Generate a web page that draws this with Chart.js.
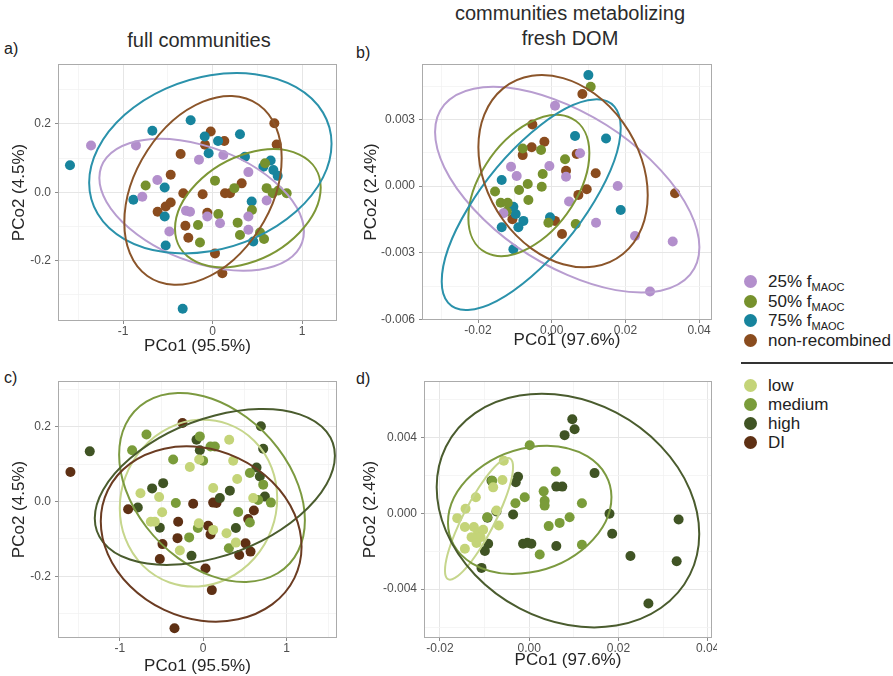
<!DOCTYPE html>
<html>
<head>
<meta charset="utf-8">
<script src="https://cdn.jsdelivr.net/npm/chart.js@4.4.1/dist/chart.umd.min.js"></script>
<style>
  body { margin: 0; width: 893px; height: 676px; overflow: hidden; background: #fff; position: relative;
         font-family: "Liberation Sans", Arial, sans-serif; color: #222; }
  canvas { position: absolute; }
  .txt { position: absolute; white-space: nowrap; line-height: 1; }
  .title { font-size: 20px; text-align: center; width: 320px; color: #2b2b2b; }
  .tag { font-size: 16px; }
  .key { position: absolute; left: 744px; width: 13px; height: 13px; border-radius: 50%; }
  .keytxt { position: absolute; left: 768px; font-size: 17px; line-height: 1; white-space: nowrap; color: #222; }
  .keytxt sub { font-size: 11px; vertical-align: -4px; }
  .rule { position: absolute; left: 741px; top: 362px; width: 152px; height: 2px; background: #333; }
</style>
</head>
<body>

<div class="txt tag" style="left:4px;top:41px">a)</div>
<div class="txt tag" style="left:356px;top:45px">b)</div>
<div class="txt tag" style="left:4px;top:370px">c)</div>
<div class="txt tag" style="left:356px;top:371px">d)</div>
<div class="txt title" style="left:39px;top:30px">full communities</div>
<div class="txt title" style="left:410px;top:3px">communities metabolizing</div>
<div class="txt title" style="left:410px;top:28px">fresh DOM</div>

<canvas id="panelA" width="344" height="301" style="left:9px;top:56px"></canvas>
<canvas id="panelB" width="367" height="295" style="left:361px;top:56px"></canvas>
<canvas id="panelC" width="344" height="304" style="left:9px;top:373px"></canvas>
<canvas id="panelD" width="357" height="298" style="left:360px;top:373px"></canvas>

<div id="legend"></div>

<script>
// ---- full communities (PCo1 95.5%, PCo2 4.5%), grouped by MAOC fraction ----
const full25 = [[-1.359,0.137],[-0.857,0.137],[-0.786,-0.013],[-0.618,0.036],[-0.484,-0.115],[-0.153,0.095],
  [-0.298,-0.054],[-0.253,-0.057],[-0.060,-0.071],[0.082,-0.091],[0.119,0.109],[0.399,0.059],[0.399,-0.071],
  [0.399,-0.110],[0.603,-0.024]];
const full50 = [[-0.749,0.020],[-0.164,-0.096],[-0.142,-0.147],[0.026,0.034],[0.063,-0.064],[0.242,0.012],
  [0.279,-0.089],[0.305,-0.125],[0.439,-0.052],[0.529,-0.118],[0.574,-0.137],[0.603,0.012],[0.670,-0.003],
  [0.734,0.005],[0.827,-0.003],[0.585,0.085]];
const full75 = [[-1.594,0.079],[-0.674,0.180],[-0.246,0.211],[-0.886,-0.022],[-0.536,0.014],[-0.536,-0.071],
  [-0.525,-0.156],[-0.335,-0.341],[-0.089,0.163],[-0.045,0.114],[0.060,0.150],[0.305,0.170],[0.361,0.104],
  [0.436,-0.027],[0.566,0.075],[0.648,0.093],[0.678,0.065],[0.726,0.048],[0.454,-0.144]];
const fullNonRec = [[0.689,0.202],[0.715,0.140],[-0.022,0.178],[-0.086,0.139],[0.130,0.150],[-0.358,0.112],
  [-0.469,0.051],[-0.328,-0.003],[-0.112,-0.006],[0.138,-0.003],[0.194,-0.003],[0.324,0.026],[-0.615,-0.057],
  [-0.525,-0.042],[-0.469,-0.030],[-0.305,-0.098],[-0.272,-0.133],[-0.060,-0.060],[0.026,-0.179],[0.108,-0.237]];

// ---- full communities grouped by diversity level ----
const fullLow = [[-0.752,0.022],[-0.528,0.012],[-0.492,-0.029],[-0.580,-0.054],[-0.628,-0.054],[-0.280,-0.131],
  [-0.160,0.092],[-0.048,0.112],[0.120,0.036],[0.312,0.165],[0.360,0.109],[0.408,0.060],[-0.052,-0.058],
  [0.280,-0.085],[0.392,-0.110],[0.600,0.009],[0.120,-0.076]];
const fullMedium = [[-0.680,0.179],[-0.852,0.137],[-0.360,0.112],[-0.328,-0.004],[-0.040,0.174],[0.088,0.147],
  [0.000,0.109],[0.140,0.147],[-0.168,-0.096],[-0.064,-0.071],[0.420,-0.028],[0.308,-0.125],[0.560,0.076],
  [0.720,0.045],[0.660,0.004],[0.812,-0.003],[0.560,-0.056]];
const fullHigh = [[-1.360,0.134],[-0.784,-0.016],[-0.612,0.035],[-0.480,0.049],[-0.520,-0.070],[-0.140,-0.145],
  [-0.080,0.165],[0.200,0.009],[0.320,0.029],[0.392,-0.071],[0.692,0.201],[0.720,0.141],[0.640,0.091],
  [0.680,0.067],[0.740,0.013],[-0.040,0.137]];
const fullDI = [[-1.592,0.079],[-0.248,0.210],[-0.900,-0.021],[-0.120,-0.006],[0.120,-0.003],[-0.300,-0.054],
  [-0.488,-0.114],[-0.308,-0.098],[-0.520,-0.154],[0.060,-0.065],[0.088,-0.088],[0.028,-0.179],[0.104,-0.237],
  [-0.344,-0.339],[0.432,-0.143],[0.508,-0.112],[0.568,-0.134],[0.540,-0.047],[0.608,-0.024],[0.160,-0.004]];

// ---- communities metabolizing fresh DOM (PCo1 97.6%, PCo2 2.4%), by MAOC fraction ----
const fresh25 = [[0.0009,0.00361],[-0.01104,0.00087],[-0.0095,0.00045],[-0.00063,0.0009],[0.00389,0.00042],
  [0.00769,0.00147],[0.0047,-0.0007],[0.01791,0.0],[0.01203,-0.00165],[0.02261,-0.00225],[0.03284,-0.0025],
  [0.02668,-0.00475],[-0.01312,-0.00123]];
const fresh50 = [[0.01058,0.00447],[-0.00787,0.00169],[-0.00289,0.00162],[0.00362,0.0012],[-0.00244,0.00054],
  [-0.00651,0.00009],[-0.00886,-0.00018],[-0.01538,-0.00025],[-0.00271,-0.00003],[-0.00633,-0.00063],
  [-0.01384,-0.00075],[-0.01194,-0.00075],[-0.0009,-0.00165],[0.00651,-0.00171],[-0.01221,-0.00115]];
const fresh75 = [[0.00995,0.00499],[0.00633,0.00225],[0.01474,0.00214],[-0.01357,0.00027],[-0.0104,-0.00093],
  [-0.00977,-0.00126],[-0.00769,-0.00157],[-0.00905,-0.00186],[-0.01357,-0.00186],[-0.0104,-0.00285],
  [-0.00045,-0.00141],[0.01872,-0.00108]];
const freshNonRec = [[-0.00525,0.00277],[0.00832,0.00414],[-0.00199,0.00199],[-0.00543,0.00174],[-0.00787,0.00139],
  [0.00389,0.00069],[0.01194,0.00057],[0.00678,0.00144],[0.0095,-0.00015],[0.00724,-0.0004],[-0.01067,-0.0015],
  [0.0009,-0.00157],[0.0028,-0.00216],[0.03347,-0.00033]];

// ---- fresh DOM communities by diversity level ----
const freshLow = [[-0.0057,0.00276],[-0.006,0.00175],[-0.00808,0.00136],[-0.01196,0.00084],[-0.01427,0.00023],
  [-0.01613,-0.00026],[-0.01442,-0.00073],[-0.0124,-0.00073],[-0.01143,-0.001],[-0.01091,-0.00126],
  [-0.01292,-0.00126],[-0.01442,-0.00187],[-0.01181,-0.00157],[-0.00682,-0.00065],[-0.01032,-0.00087],
  [-0.00734,0.00014]];
const freshMedium = [[0.00011,0.00358],[0.00592,0.0022],[0.00324,0.00115],[0.00346,0.00066],[0.00346,0.0004],
  [-0.00101,0.00084],[-0.00309,0.00052],[0.00436,-0.00068],[0.00682,-0.00051],[0.00905,-0.00021],
  [0.01181,0.00052],[0.01181,-0.00166],[0.00235,-0.00217],[-0.00942,-0.00021],[-0.0083,0.00171]];
const freshHigh = [[0.00965,0.00495],[0.01017,0.00442],[0.00793,0.00411],[0.01464,0.00211],[-0.0025,0.00192],
  [-0.00302,0.00163],[-0.00361,-0.00007],[-0.00734,0.00009],[-0.00935,-0.00024],[-0.0092,-0.00161],
  [-0.00994,-0.00199],[-0.01069,-0.00288],[-0.00138,-0.00161],[-0.00041,-0.00156],[0.00048,-0.00161],
  [0.00607,-0.00173],[0.00607,0.0014],[0.00741,0.0014],[0.01799,-0.00003],[0.01859,-0.00108],
  [0.02268,-0.00225],[0.03348,-0.00033],[0.03304,-0.00253],[0.02671,-0.00475],[-0.00845,0.00171]];

// 95% ellipses per group: [centre x, centre y, half-width x, half-height y, correlation]
const fullEllipsesMix = [[-0.123,-0.0366,1.143,0.1927,-0.407],[0.393,-0.0468,0.814,0.1727,0.35],
  [-0.026,0.085,1.354,0.264,0.217],[-0.108,0.0054,0.879,0.2766,0.343]];
const fullEllipsesDiv = [[-0.056,-0.0045,0.944,0.2231,0.06],[0.106,0.0375,1.114,0.2526,-0.346],
  [0.14,0.0388,1.44,0.2084,0.4],[-0.024,-0.087,1.204,0.2343,-0.146]];
const freshEllipsesMix = [[0.00421,-0.000165,0.03587,0.00463,-0.56],[-0.0062,0.0000225,0.01642,0.00317,0.46],
  [-0.00556,-0.00084,0.02429,0.00474,0.73],[0.00308,0.000667,0.02298,0.004325,-0.25]];
const freshEllipsesDiv = [[-0.01125,-0.000297,0.00763,0.0032,0.854],[0.00011,0.000175,0.01832,0.00337,0.2],
  [0.00868,0.00014,0.02942,0.00615,-0.2]];

// axis ticks and labels
const fullTicksX = [-1, 0, 1];
const fullLabelsX = ['-1', '0', '1'];
const fullMinorX = [-1.5, -0.5, 0.5, 1.5];
const fullTicksY = [-0.2, 0, 0.2];
const fullLabelsY = ['-0.2', '0.0', '0.2'];
const fullMinorY = [-0.3, -0.1, 0.1, 0.3];
const freshTicksX = [-0.02, 0, 0.02, 0.04];
const freshLabelsX = ['-0.02', '0.00', '0.02', '0.04'];
const freshMinorX = [-0.03, -0.01, 0.01, 0.03];
const freshTicksYb = [-0.006, -0.003, 0, 0.003];
const freshLabelsYb = ['-0.006', '-0.003', '0.000', '0.003'];
const freshMinorYb = [-0.0045, -0.0015, 0.0015, 0.0045];
const freshTicksYd = [-0.004, 0, 0.004];
const freshLabelsYd = ['-0.004', '0.000', '0.004'];
const freshMinorYd = [-0.006, -0.002, 0.002, 0.006];

const mixNames = ['25% f<sub>MAOC</sub>', '50% f<sub>MAOC</sub>', '75% f<sub>MAOC</sub>', 'non-recombined'];
const divNames = ['low', 'medium', 'high', 'DI'];

const mixColors = ['#b38fcc', '#76912d', '#17849d', '#8a4c1e'];
const mixLines = ['#b89dd0', '#7d9736', '#2b92ab', '#8b552a'];
const divColors = ['#c4d478', '#7a9c3a', '#405424', '#5e3014'];
const divLines = ['#c6d68c', '#7c9a40', '#4a5c2e', '#6b3c22'];

Chart.defaults.font.family = '"Liberation Sans", Arial, sans-serif';

const isOn = (list, v) => list.some(m => Math.abs(m - v) < 1e-9);

function axis(range, major, labels, minor, title, size, horizontal) {
  return {
    type: 'linear',
    min: range[0],
    max: range[1],
    afterBuildTicks: s => {
      s.ticks = major.concat(minor)
        .filter(v => v >= range[0] && v <= range[1])
        .sort((a, b) => a - b)
        .map(v => ({ value: v }));
    },
    afterFit: s => {
      if (horizontal) s.height = size; else s.width = size;
      s.paddingLeft = s.paddingRight = s.paddingTop = s.paddingBottom = 0;
    },
    ticks: {
      autoSkip: false,
      maxRotation: 0,
      padding: horizontal ? 0 : 4,
      color: '#4d4d4d',
      font: { size: 12 },
      callback: v => {
        const i = major.findIndex(m => Math.abs(m - v) < 1e-9);
        return i < 0 ? '' : labels[i];
      }
    },
    grid: {
      color: c => isOn(major, c.tick.value) ? '#e6e6e6' : '#f3f3f3',
      lineWidth: c => isOn(major, c.tick.value) ? 1 : 0.8,
      tickColor: c => isOn(major, c.tick.value) ? '#8c8c8c' : 'rgba(0,0,0,0)',
      tickLength: 3
    },
    border: { display: false },
    title: { display: true, text: title, color: '#262626', font: { size: 17 }, padding: 0 }
  };
}

// confidence ellipses drawn through the chart's scales
const ellipsePlugin = {
  id: 'ellipses',
  afterDatasetsDraw(chart, args, opts) {
    const { ctx, chartArea: a, scales: { x, y } } = chart;
    ctx.save();
    ctx.beginPath();
    ctx.rect(a.left, a.top, a.right - a.left, a.bottom - a.top);
    ctx.clip();
    opts.list.forEach((e, i) => {
      const [cx, cy, hx, hy, r] = e;
      const px = x.getPixelForValue(cx), py = y.getPixelForValue(cy);
      const ax = x.getPixelForValue(cx + hx) - px;
      const ay = y.getPixelForValue(cy + r * hy) - py;
      const by = y.getPixelForValue(cy + hy * Math.sqrt(1 - r * r)) - py;
      ctx.beginPath();
      ctx.save();
      ctx.transform(ax, ay, 0, by, px, py);
      ctx.arc(0, 0, 1, 0, Math.PI * 2);
      ctx.restore();
      ctx.strokeStyle = opts.colors[i];
      ctx.lineWidth = 2;
      ctx.stroke();
    });
    ctx.restore();
  }
};

// grey panel border
const framePlugin = {
  id: 'frame',
  afterDraw(chart) {
    const { ctx, chartArea: a } = chart;
    ctx.save();
    ctx.strokeStyle = '#ababab';
    ctx.lineWidth = 1;
    ctx.strokeRect(Math.round(a.left) + 0.5, Math.round(a.top) + 0.5,
      Math.round(a.right - a.left) - 1, Math.round(a.bottom - a.top) - 1);
    ctx.restore();
  }
};

function makePanel(id, p) {
  return new Chart(document.getElementById(id), {
    type: 'scatter',
    data: {
      datasets: p.groups.map((pts, i) => ({
        data: pts.map(q => ({ x: q[0], y: q[1] })),
        backgroundColor: p.colors[i],
        borderWidth: 0,
        pointRadius: 5,
        pointHoverRadius: 5
      }))
    },
    options: {
      responsive: false,
      animation: false,
      events: [],
      layout: { padding: { top: 8, right: p.padRight, left: 0, bottom: 0 } },
      plugins: {
        legend: { display: false },
        tooltip: { enabled: false },
        ellipses: { list: p.ellipses, colors: p.lines }
      },
      scales: {
        x: axis(p.xRange, p.xTicks, p.xLabels, p.xMinor, p.xTitle, p.xSize, true),
        y: axis(p.yRange, p.yTicks, p.yLabels, p.yMinor, p.yTitle, p.ySize, false)
      }
    },
    plugins: [ellipsePlugin, framePlugin]
  });
}

makePanel('panelA', {
  groups: [full25, full50, full75, fullNonRec], colors: mixColors, lines: mixLines, ellipses: fullEllipsesMix,
  xRange: [-1.728, 1.389], xTicks: fullTicksX, xLabels: fullLabelsX, xMinor: fullMinorX, xTitle: 'PCo1 (95.5%)', xSize: 36,
  yRange: [-0.377, 0.3755], yTicks: fullTicksY, yLabels: fullLabelsY, yMinor: fullMinorY, yTitle: 'PCo2 (4.5%)', ySize: 49,
  padRight: 16
});
makePanel('panelB', {
  groups: [fresh25, fresh50, fresh75, freshNonRec], colors: mixColors, lines: mixLines, ellipses: freshEllipsesMix,
  xRange: [-0.0352, 0.0435], xTicks: freshTicksX, xLabels: freshLabelsX, xMinor: freshMinorX, xTitle: 'PCo1 (97.6%)', xSize: 31,
  yRange: [-0.00603, 0.00549], yTicks: freshTicksYb, yLabels: freshLabelsYb, yMinor: freshMinorYb, yTitle: 'PCo2 (2.4%)', ySize: 61,
  padRight: 16
});
makePanel('panelC', {
  groups: [fullLow, fullMedium, fullHigh, fullDI], colors: divColors, lines: divLines, ellipses: fullEllipsesDiv,
  xRange: [-1.741, 1.605], xTicks: fullTicksX, xLabels: fullLabelsX, xMinor: fullMinorX, xTitle: 'PCo1 (95.5%)', xSize: 39,
  yRange: [-0.365, 0.3221], yTicks: fullTicksY, yLabels: fullLabelsY, yMinor: fullMinorY, yTitle: 'PCo2 (4.5%)', ySize: 49,
  padRight: 16
});
makePanel('panelD', {
  groups: [freshLow, freshMedium, freshHigh], colors: divColors, lines: divLines, ellipses: freshEllipsesDiv,
  xRange: [-0.02358, 0.04096], xTicks: freshTicksX, xLabels: freshLabelsX, xMinor: freshMinorX, xTitle: 'PCo1 (97.6%)', xSize: 33,
  yRange: [-0.00657, 0.00696], yTicks: freshTicksYd, yLabels: freshLabelsYd, yMinor: freshMinorYd, yTitle: 'PCo2 (2.4%)', ySize: 64,
  padRight: 4
});

// shared legend: MAOC fractions, rule, diversity levels
const legend = document.getElementById('legend');
function legendRows(names, colors, rowTops) {
  names.forEach((n, i) => {
    const dot = document.createElement('div');
    dot.className = 'key';
    dot.style.top = (rowTops[i] - 6.5) + 'px';
    dot.style.background = colors[i];
    legend.appendChild(dot);
    const t = document.createElement('div');
    t.className = 'keytxt';
    t.style.top = (rowTops[i] - 8.5) + 'px';
    t.innerHTML = n;
    legend.appendChild(t);
  });
}
legendRows(mixNames, mixColors, [281, 301, 320.5, 340]);
const rule = document.createElement('div');
rule.className = 'rule';
legend.appendChild(rule);
legendRows(divNames, divColors, [385.5, 404.5, 423.5, 442]);
</script>
</body>
</html>
